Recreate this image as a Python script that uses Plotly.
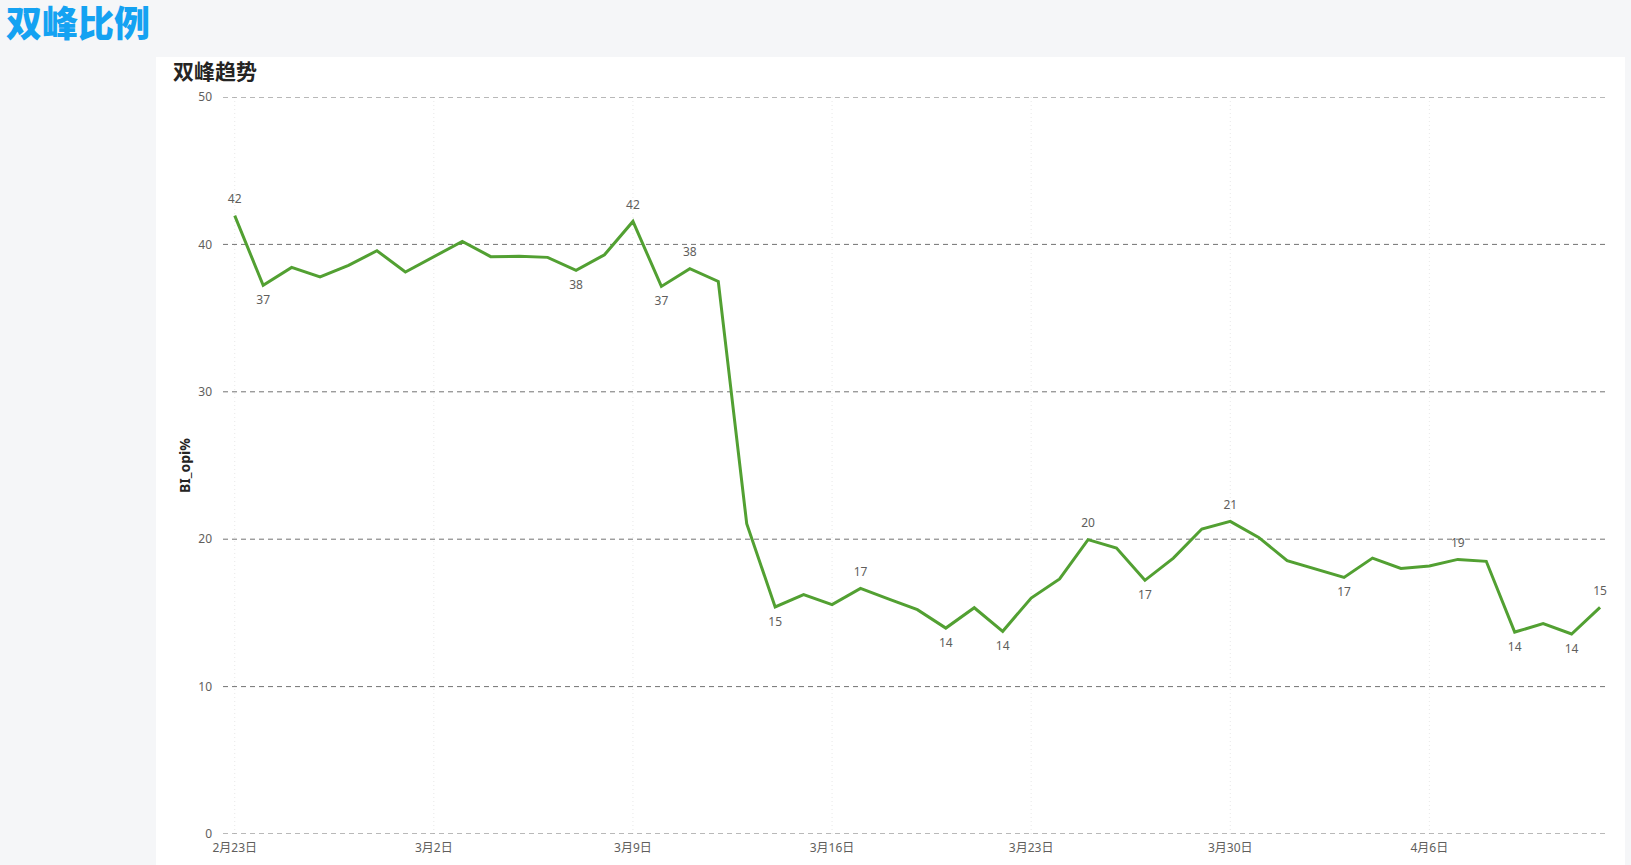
import plotly.graph_objects as go
import pandas as pd

# ---- data ----
start_date = "2025-02-23"
n_days = 49
dates = pd.date_range(start_date, periods=n_days, freq="D")
values = [41.95, 37.22, 38.44, 37.79, 38.58, 39.57, 38.13, 39.17, 40.20, 39.17,
          39.19, 39.12, 38.24, 39.30, 41.56, 37.15, 38.35, 37.49, 21.05, 15.40,
          16.24, 15.56, 16.66, 15.94, 15.22, 13.97, 15.35, 13.75, 16.01, 17.30,
          19.97, 19.40, 17.21, 18.72, 20.69, 21.21, 20.12, 18.54, 17.98, 17.41,
          18.72, 18.02, 18.18, 18.63, 18.50, 13.70, 14.27, 13.57, 15.37]
label_above = [0, 14, 16, 22, 30, 35, 43, 48]
label_below = [1, 12, 15, 19, 25, 27, 32, 39, 45, 47]
tick_dates = ["2025-02-23", "2025-03-02", "2025-03-09", "2025-03-16",
              "2025-03-23", "2025-03-30", "2025-04-06"]
tick_text = ["2月23日", "3月2日", "3月9日", "3月16日", "3月23日", "3月30日", "4月6日"]
y_ticks = [0, 10, 20, 30, 40, 50]

page_title = "双峰比例"
card_title = "双峰趋势"
y_title = "BI_opi%"

FONT = "Segoe UI, Noto Sans, Noto Sans CJK SC, sans-serif"
GREEN = "#52a032"
LABEL_COLOR = "#605e5c"

W, H = 1631, 865
ml, mr, mt, mb = 223, 23, 97, 31
pw = W - ml - mr
ph = H - mt - mb

def px_x(p):
    return (p - ml) / pw

def px_y(p):
    return (H - mb - p) / ph

fig = go.Figure()

# white card (drawn first so gridlines lie on top of it)
fig.add_shape(type="rect", xref="paper", yref="paper",
              x0=px_x(156), x1=px_x(1625), y0=px_y(870), y1=px_y(57),
              fillcolor="white", line=dict(width=0), layer="below")

# weekly dotted vertical gridlines
for td in tick_dates:
    fig.add_shape(type="line", xref="x", yref="paper", x0=td, x1=td, y0=0, y1=1,
                  line=dict(color="#e8e8e8", width=1, dash="1px,3px"), layer="below")

# dashed horizontal gridlines (incl. 0 and 50)
for yv in y_ticks:
    fig.add_shape(type="line", xref="paper", yref="y", x0=0, x1=1, y0=yv, y1=yv,
                  line=dict(color="#737373", width=1, dash="5px,4px"), layer="below")

fig.add_trace(go.Scatter(
    x=dates, y=values, mode="lines",
    line=dict(color=GREEN, width=3),
    hoverinfo="x+y", showlegend=False,
))

above_x = [dates[i] for i in label_above]
above_y = [values[i] for i in label_above]
below_x = [dates[i] for i in label_below]
below_y = [values[i] for i in label_below]

fig.add_trace(go.Scatter(
    x=above_x, y=above_y, mode="markers+text",
    marker=dict(size=14, color="rgba(0,0,0,0)"),
    text=[f"{round(v):d}" for v in above_y], textposition="top center",
    textfont=dict(family=FONT, size=12, color=LABEL_COLOR),
    showlegend=False, hoverinfo="skip", cliponaxis=False,
))
fig.add_trace(go.Scatter(
    x=below_x, y=below_y, mode="markers+text",
    marker=dict(size=14, color="rgba(0,0,0,0)"),
    text=[f"{round(v):d}" for v in below_y], textposition="bottom center",
    textfont=dict(family=FONT, size=12, color=LABEL_COLOR),
    showlegend=False, hoverinfo="skip", cliponaxis=False,
))

fig.add_annotation(text=page_title, xref="paper", yref="paper",
                   x=px_x(4), y=px_y(21), xanchor="left", yanchor="middle",
                   showarrow=False,
                   font=dict(family="Noto Sans CJK SC", size=36, color="#14a2f2", weight=900))
fig.add_annotation(text=card_title, xref="paper", yref="paper",
                   x=px_x(171), y=px_y(70), xanchor="left", yanchor="middle",
                   showarrow=False,
                   font=dict(family="Noto Sans CJK SC", size=21, color="#252423", weight="bold"))
fig.add_annotation(text=y_title, xref="paper", yref="paper",
                   x=px_x(184), y=px_y(466), xanchor="center", yanchor="middle",
                   textangle=-90, showarrow=False,
                   font=dict(family=FONT, size=14, color="#252423", weight="bold"))

x0 = pd.Timestamp(start_date) - pd.Timedelta(hours=9.9)
x1 = pd.Timestamp(start_date) + pd.Timedelta(hours=48.28 * 24)

fig.update_layout(
    width=W, height=H,
    margin=dict(l=ml, r=mr, t=mt, b=mb, pad=0, autoexpand=False),
    paper_bgcolor="#f5f6f8",
    plot_bgcolor="rgba(0,0,0,0)",
    font=dict(family=FONT, size=12, color=LABEL_COLOR),
    xaxis=dict(
        type="date", range=[x0, x1], automargin=False,
        tickmode="array", tickvals=tick_dates, ticktext=tick_text,
        showgrid=False, zeroline=False, showline=False, ticks="",
        tickfont=dict(family=FONT, size=12, color=LABEL_COLOR),
        ticklabelstandoff=5,
    ),
    yaxis=dict(
        range=[0, 50], tickmode="array", tickvals=y_ticks, automargin=False,
        showgrid=False, zeroline=False, showline=False, ticks="",
        tickfont=dict(family=FONT, size=12, color=LABEL_COLOR),
        ticklabelstandoff=10,
    ),
)

fig.write_html(
    "out.html",
    config={"displayModeBar": False},
    post_script="document.body.style.margin='0';document.body.style.background='#f5f6f8';",
)
